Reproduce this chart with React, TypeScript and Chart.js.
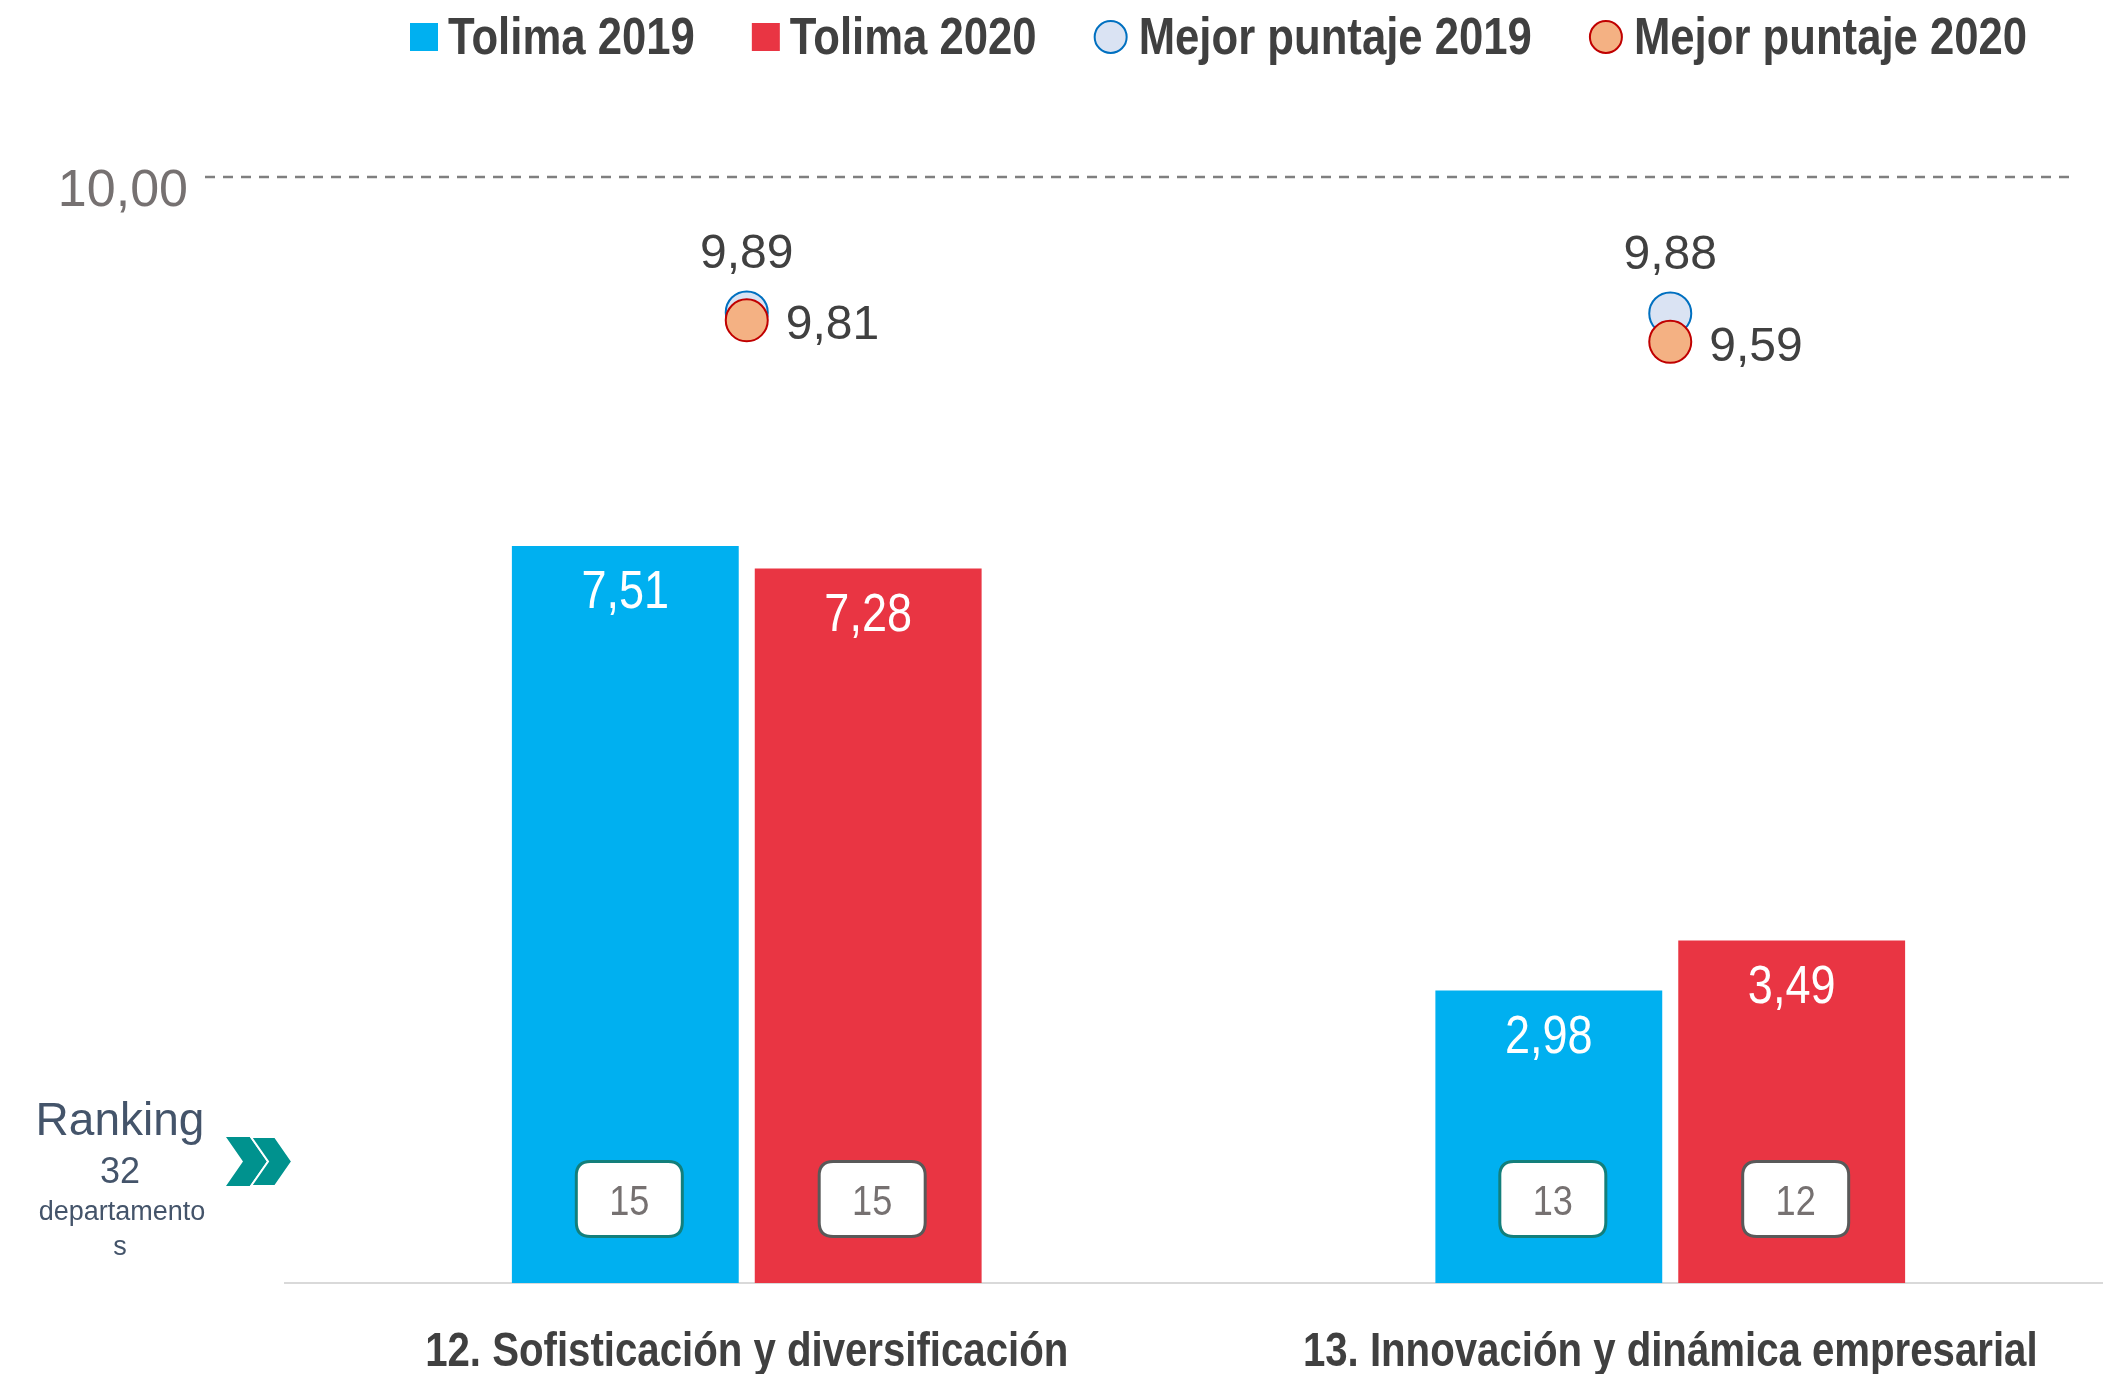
import React, { useEffect, useRef } from "react";
import { Chart, registerables } from "chart.js";

Chart.register(...registerables);

// ---------- data ----------
const CATEGORIES = ["12. Sofisticación y diversificación", "13. Innovación y dinámica empresarial"];
const SERIES_LABELS = ["Tolima 2019", "Tolima 2020", "Mejor puntaje 2019", "Mejor puntaje 2020"];
const TOLIMA_2019 = [7.51, 2.98];
const TOLIMA_2020 = [7.28, 3.49];
const MEJOR_2019 = [9.89, 9.88];
const MEJOR_2020 = [9.81, 9.59];
const RANK_2019 = [15, 13];
const RANK_2020 = [15, 12];
const REF_LINE_VALUE = 11.27; // axis position of the dashed reference line
const REF_LINE_LABEL = "10,00";
const RANKING_TEXT = ["Ranking", "32", "departamento", "s"];

// ---------- styles ----------
const BLUE = "#00B0F0";
const RED = "#E93543";
const M19_FILL = "#DAE3F3";
const M19_BORDER = "#0070C0";
const M20_FILL = "#F4B183";
const M20_BORDER = "#C00000";
const TEXT = "#404040";
const GREY = "#767171";
const TEAL = "#00928E";
const RANK_COLOR = "#44546A";
const SANS = "'Liberation Sans', Arial, sans-serif";
const NARROW_X = 0.82; // horizontal squeeze to emulate a narrow face
const LEGEND_X = 0.84;
const BAR_LABEL_X = 0.85;
const CANVAS_W = 2155;
const CANVAS_H = 1374;

const fmt = (v: number) => v.toFixed(2).replace(".", ",");

function narrowText(
  ctx: CanvasRenderingContext2D,
  text: string,
  x: number,
  y: number,
  align: CanvasTextAlign,
  font: string,
  color: string,
  sx: number = NARROW_X
) {
  ctx.save();
  ctx.font = font;
  ctx.fillStyle = color;
  ctx.textAlign = align;
  ctx.textBaseline = "alphabetic";
  ctx.translate(x, y);
  ctx.scale(sx, 1);
  ctx.fillText(text, 0, 0);
  ctx.restore();
}

function roundRect(ctx: CanvasRenderingContext2D, x: number, y: number, w: number, h: number, r: number) {
  ctx.beginPath();
  ctx.moveTo(x + r, y);
  ctx.lineTo(x + w - r, y);
  ctx.quadraticCurveTo(x + w, y, x + w, y + r);
  ctx.lineTo(x + w, y + h - r);
  ctx.quadraticCurveTo(x + w, y + h, x + w - r, y + h);
  ctx.lineTo(x + r, y + h);
  ctx.quadraticCurveTo(x, y + h, x, y + h - r);
  ctx.lineTo(x, y + r);
  ctx.quadraticCurveTo(x, y, x + r, y);
  ctx.closePath();
}

const refLinePlugin = {
  id: "refLine",
  beforeDatasetsDraw(chart: any) {
    const { ctx, chartArea, scales } = chart;
    const y = scales.y.getPixelForValue(REF_LINE_VALUE);
    ctx.save();
    ctx.strokeStyle = "#7F7F7F";
    ctx.lineWidth = 2.5;
    ctx.setLineDash([10, 8]);
    ctx.beginPath();
    ctx.moveTo(chartArea.left - 80, y);
    ctx.lineTo(2072, y);
    ctx.stroke();
    ctx.restore();
  },
};

const labelsPlugin = {
  id: "valueLabels",
  afterDatasetsDraw(chart: any) {
    const { ctx, scales } = chart;
    const base = scales.y.getPixelForValue(0);
    ctx.save();
    // bar value labels and rank boxes
    [0, 1].forEach((di) => {
      const meta = chart.getDatasetMeta(di);
      const values = chart.data.datasets[di].data as number[];
      const ranks = di === 0 ? RANK_2019 : RANK_2020;
      meta.data.forEach((el: any, i: number) => {
        narrowText(ctx, fmt(values[i]), el.x, el.y + 62, "center", `53px ${SANS}`, "#FFFFFF", BAR_LABEL_X);
        const bw = 106, bh = 75;
        const cx = el.x + 4, cy = base - 84;
        roundRect(ctx, cx - bw / 2, cy - bh / 2, bw, bh, 14);
        ctx.fillStyle = "#FFFFFF";
        ctx.fill();
        ctx.lineWidth = 3;
        ctx.strokeStyle = di === 0 ? "#137F7B" : "#595959";
        ctx.stroke();
        narrowText(ctx, String(ranks[i]), cx, cy + 16, "center", `42px ${SANS}`, GREY, 0.86);
      });
    });
    // marker labels
    ctx.fillStyle = TEXT;
    ctx.font = `48px ${SANS}`;
    ctx.textBaseline = "alphabetic";
    const m19 = chart.getDatasetMeta(2);
    m19.data.forEach((el: any, i: number) => {
      ctx.textAlign = "center";
      ctx.fillText(fmt(MEJOR_2019[i]), el.x, el.y - 44);
    });
    const m20 = chart.getDatasetMeta(3);
    m20.data.forEach((el: any, i: number) => {
      ctx.textAlign = "left";
      ctx.fillText(fmt(MEJOR_2020[i]), el.x + 39, el.y + 19);
    });
    ctx.restore();
  },
};

const decorPlugin = {
  id: "decor",
  afterDraw(chart: any) {
    const { ctx, scales } = chart;
    ctx.save();

    // category labels
    const baseY = scales.y.getPixelForValue(0);
    (chart.data.labels as string[]).forEach((lab, i) => {
      narrowText(ctx, lab, scales.x.getPixelForValue(i), baseY + 83, "center", `bold 49px ${SANS}`, TEXT);
    });

    // legend
    const legendFont = `bold 52px ${SANS}`;
    ctx.font = legendFont;
    let x = 410;
    const cy = 37;
    chart.data.datasets.forEach((ds: any) => {
      let symW: number;
      if (ds.type === "line") {
        symW = 35;
        ctx.beginPath();
        ctx.arc(x + 17, cy, 16, 0, Math.PI * 2);
        ctx.fillStyle = ds.pointBackgroundColor;
        ctx.fill();
        ctx.lineWidth = 2;
        ctx.strokeStyle = ds.pointBorderColor;
        ctx.stroke();
      } else {
        symW = 28;
        ctx.fillStyle = ds.backgroundColor;
        ctx.fillRect(x, cy - 14, 28, 28);
      }
      x += symW + 10;
      narrowText(ctx, ds.label, x, 54, "left", legendFont, TEXT, LEGEND_X);
      ctx.font = legendFont;
      x += ctx.measureText(ds.label).width * LEGEND_X + 57;
    });

    // ranking note
    ctx.textAlign = "center";
    ctx.textBaseline = "alphabetic";
    ctx.fillStyle = RANK_COLOR;
    ctx.font = `46px ${SANS}`;
    ctx.fillText(RANKING_TEXT[0], 120, 1135);
    ctx.font = `36px ${SANS}`;
    ctx.fillText(RANKING_TEXT[1], 120, 1183);
    ctx.font = `27px ${SANS}`;
    ctx.fillText(RANKING_TEXT[2], 122, 1220);
    ctx.fillText(RANKING_TEXT[3], 120, 1255);

    // chevrons
    const drawChev = (x0: number, stroke: boolean) => {
      const top = 1137, bot = 1186, mid = 1161.5;
      ctx.beginPath();
      ctx.moveTo(x0, top);
      ctx.lineTo(x0 + 24, top);
      ctx.lineTo(x0 + 41, mid);
      ctx.lineTo(x0 + 24, bot);
      ctx.lineTo(x0, bot);
      ctx.lineTo(x0 + 17, mid);
      ctx.closePath();
      ctx.fillStyle = TEAL;
      ctx.fill();
      if (stroke) {
        ctx.strokeStyle = "#FFFFFF";
        ctx.lineWidth = 2;
        ctx.stroke();
      }
    };
    drawChev(226, false);
    drawChev(251, true);
    ctx.restore();
  },
};

export default function App() {
  const ref = useRef<HTMLCanvasElement | null>(null);

  useEffect(() => {
    document.body.style.margin = "0";
    document.body.style.overflow = "hidden";
    if (!ref.current) return;
    const chart = new Chart(ref.current, {
      type: "bar",
      data: {
        labels: CATEGORIES,
        datasets: [
          {
            type: "bar",
            label: SERIES_LABELS[0],
            data: TOLIMA_2019,
            backgroundColor: BLUE,
            borderWidth: 0,
            barPercentage: 0.934,
            categoryPercentage: 0.526,
            order: 3,
          },
          {
            type: "bar",
            label: SERIES_LABELS[1],
            data: TOLIMA_2020,
            backgroundColor: RED,
            borderWidth: 0,
            barPercentage: 0.934,
            categoryPercentage: 0.526,
            order: 4,
          },
          {
            type: "line",
            label: SERIES_LABELS[2],
            data: MEJOR_2019,
            showLine: false,
            pointRadius: 21,
            pointBorderWidth: 2,
            pointBackgroundColor: M19_FILL,
            pointBorderColor: M19_BORDER,
            order: 2,
          },
          {
            type: "line",
            label: SERIES_LABELS[3],
            data: MEJOR_2020,
            showLine: false,
            pointRadius: 21,
            pointBorderWidth: 2,
            pointBackgroundColor: M20_FILL,
            pointBorderColor: M20_BORDER,
            order: 1,
          },
        ] as any,
      },
      options: {
        animation: false,
        responsive: false,
        events: [],
        layout: { padding: { top: 177, right: 8, left: 0, bottom: 0 } },
        plugins: {
          legend: { display: false },
          tooltip: { enabled: false },
          title: { display: false },
        },
        scales: {
          x: {
            type: "category",
            offset: true,
            grid: { display: false, drawTicks: false },
            border: { display: true, color: "#D9D9D9", width: 2 },
            ticks: { display: false },
            afterFit: (s: any) => {
              s.height = 91;
              s.paddingLeft = 0;
              s.paddingRight = 0;
            },
          },
          y: {
            min: 0,
            max: REF_LINE_VALUE,
            grid: { display: false, drawTicks: false },
            border: { display: false },
            afterBuildTicks: (s: any) => {
              s.ticks = [{ value: REF_LINE_VALUE }];
            },
            ticks: {
              callback: () => REF_LINE_LABEL,
              color: GREY,
              font: { family: SANS, size: 52 },
              padding: 97,
              labelOffset: 15,
            },
            afterFit: (s: any) => {
              s.width = 285;
              s.paddingTop = 0;
              s.paddingBottom = 0;
            },
          },
        },
      } as any,
      plugins: [refLinePlugin, labelsPlugin, decorPlugin],
    });
    return () => chart.destroy();
  }, []);

  return (
    <div style={{ width: 2103, height: CANVAS_H, overflow: "hidden", position: "relative", background: "#FFFFFF" }}>
      <canvas ref={ref} width={CANVAS_W} height={CANVAS_H} style={{ display: "block", width: CANVAS_W, height: CANVAS_H }} />
    </div>
  );
}
